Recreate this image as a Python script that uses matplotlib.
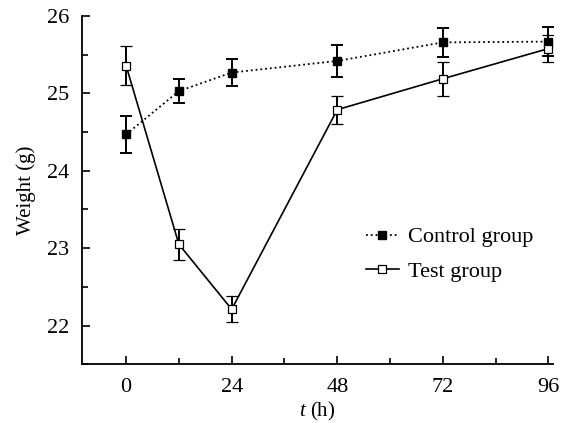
import numpy as np
import matplotlib
matplotlib.use('Agg')
import matplotlib.pyplot as plt
from matplotlib.ticker import MultipleLocator

plt.rcParams['font.family'] = 'Liberation Serif'
plt.rcParams['mathtext.fontset'] = 'custom'
plt.rcParams['mathtext.it'] = 'Liberation Serif:italic'
plt.rcParams['mathtext.rm'] = 'Liberation Serif'

# data
t = [0, 12, 24, 48, 72, 96]
control = [24.47, 25.03, 25.27, 25.42, 25.66, 25.67]
control_err = [0.235, 0.16, 0.18, 0.21, 0.19, 0.19]
test = [25.36, 23.05, 22.21, 24.79, 25.19, 25.58]
test_err = [0.25, 0.2, 0.17, 0.18, 0.22, 0.18]

fig = plt.figure(figsize=(5.7, 4.23), dpi=100)
ax = fig.add_axes([0.144, 0.139, 0.826, 0.823])

ax.errorbar(t, control, yerr=control_err, color='black', ls=':', lw=1.3,
            marker='s', ms=6, mfc='black', mec='black', capsize=4,
            elinewidth=1.4, capthick=1.4, label='Control group', zorder=3)
ax.errorbar(t, test, yerr=test_err, color='black', ls='-', lw=1.2,
            marker='s', ms=5.5, mfc='white', mec='black', mew=0.9, capsize=4,
            elinewidth=1.4, capthick=1.4, label='Test group', zorder=4)

ax.set_xlim(-10, 97)
ax.set_ylim(21.5, 26)
ax.set_xticks([0, 24, 48, 72, 96])
ax.set_yticks([22, 23, 24, 25, 26])
ax.xaxis.set_minor_locator(MultipleLocator(12))
ax.yaxis.set_minor_locator(MultipleLocator(0.5))
ax.tick_params(which='both', direction='in', labelsize=16, width=1.2)
ax.tick_params(which='major', length=6)
ax.tick_params(which='minor', length=4)
ax.tick_params(axis='x', pad=10)
ax.tick_params(axis='y', pad=9)
ax.spines['top'].set_visible(False)
ax.spines['right'].set_visible(False)
ax.spines['left'].set_linewidth(1.3)
ax.spines['bottom'].set_linewidth(1.3)

ax.set_xlabel('$t$ (h)', fontsize=15, labelpad=2)
ax.set_ylabel('Weight (g)', fontsize=15, labelpad=8)

handles, labels = ax.get_legend_handles_labels()
handles = [h[0] for h in handles]
ax.legend(handles, labels, loc='center left', bbox_to_anchor=(0.56, 0.316),
          frameon=False, fontsize=16, handlelength=1.5, handletextpad=0.4,
          labelspacing=0.62)

fig.savefig('out.png', dpi=100)
